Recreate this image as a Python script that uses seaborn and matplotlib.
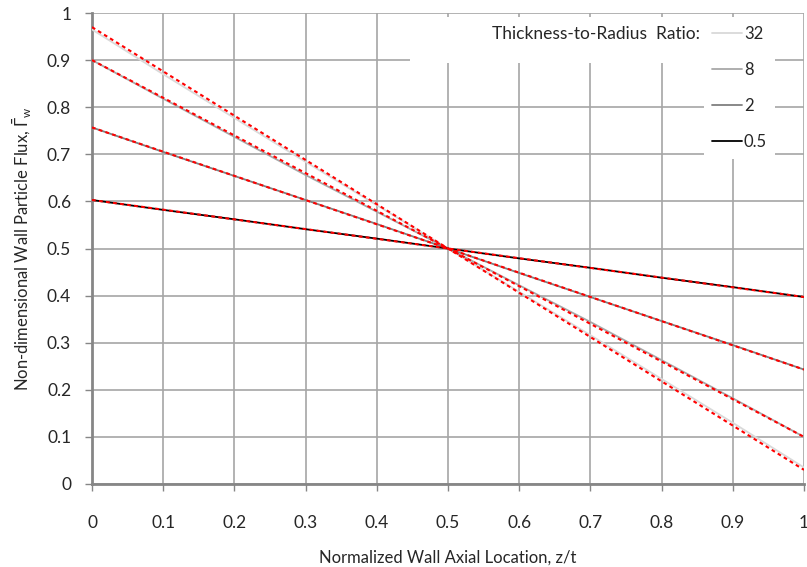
import numpy as np
import pandas as pd
import matplotlib
matplotlib.use("Agg")
import matplotlib.pyplot as plt
from matplotlib.patches import Rectangle
from matplotlib.lines import Line2D
import seaborn as sns

# ---- data ----
x_vals = [0.0, 0.1, 0.2, 0.3, 0.4, 0.5, 0.6, 0.7, 0.8, 0.9, 1.0]
ratios = ["32", "8", "2", "0.5"]
flux_32 = [0.965, 0.870, 0.777, 0.684, 0.592, 0.500, 0.408, 0.316, 0.223, 0.130, 0.035]
flux_8 = [0.900, 0.818, 0.737, 0.656, 0.578, 0.500, 0.422, 0.344, 0.263, 0.182, 0.100]
flux_2 = [0.757, 0.705, 0.654, 0.603, 0.552, 0.500, 0.448, 0.397, 0.346, 0.295, 0.243]
flux_05 = [0.603, 0.582, 0.562, 0.541, 0.521, 0.500, 0.479, 0.459, 0.438, 0.418, 0.397]
fit_x = [0.0, 1.0]
fit_32 = [0.970, 0.030]
fit_8 = [0.900, 0.100]
fit_2 = [0.757, 0.243]
fit_05 = [0.603, 0.397]

x_ticks = [0, 0.1, 0.2, 0.3, 0.4, 0.5, 0.6, 0.7, 0.8, 0.9, 1]
tick_labels = ["0", "0.1", "0.2", "0.3", "0.4", "0.5", "0.6", "0.7", "0.8", "0.9", "1"]

sns.set_style("white")
plt.rcParams["font.family"] = ["Lato", "DejaVu Sans"]
plt.rcParams["mathtext.fontset"] = "custom"
plt.rcParams["mathtext.rm"] = "Lato"
plt.rcParams["mathtext.it"] = "Lato"

solid = pd.DataFrame({
    "x": x_vals * 4,
    "y": flux_32 + flux_8 + flux_2 + flux_05,
    "ratio": sum([[r] * len(x_vals) for r in ratios], []),
})
fits = pd.DataFrame({
    "x": fit_x * 4,
    "y": fit_32 + fit_8 + fit_2 + fit_05,
    "ratio": sum([[r] * len(fit_x) for r in ratios], []),
})

colors = {"32": "#d9d9d9", "8": "#a8a8a8", "2": "#7f7f7f", "0.5": "#000000"}

fig = plt.figure(figsize=(8.07, 5.67), dpi=100)
ax = fig.add_axes([92 / 807, 1 - 484 / 567, (804 - 92) / 807, (484 - 13) / 567])

sns.lineplot(data=solid, x="x", y="y", hue="ratio", hue_order=ratios,
             palette=colors, linewidth=1.3, ax=ax, legend=False, zorder=3)
for r in ratios:
    sub = fits[fits["ratio"] == r]
    sns.lineplot(data=sub, x="x", y="y", color="red", linewidth=1.5,
                 ax=ax, legend=False, zorder=4)
for ln in ax.lines[4:]:
    ln.set_dashes([1.8, 1.6])

ax.set_xlim(0, 1)
ax.set_ylim(0, 1)
ax.set_xticks(x_ticks)
ax.set_xticklabels(tick_labels)
ax.set_yticks(x_ticks)
ax.set_yticklabels(tick_labels)
ax.grid(True, color="#a6a6a6", linewidth=1.2)
ax.set_axisbelow(True)
for s in ["top", "right"]:
    ax.spines[s].set_visible(False)
for s in ["left", "bottom"]:
    ax.spines[s].set_color("#868686")
    ax.spines[s].set_linewidth(2.0)
    ax.spines[s].set_zorder(2.5)
ax.tick_params(axis="x", direction="out", length=5, width=1, color="#868686",
               pad=17, labelsize=12.5, bottom=True)
ax.tick_params(axis="y", direction="out", length=5, width=1, color="#868686",
               pad=10, labelsize=12.5, left=True)

ax.set_xlabel("Normalized Wall Axial Location, z/t", fontsize=12, labelpad=14)
ax.set_ylabel(r"Non-dimensional Wall Particle Flux, $\bar{\Gamma}_{\mathrm{w}}$",
              fontsize=12, labelpad=10)

# legend background + title
ax.add_patch(Rectangle(((410 - 92) / 712, (484 - 63) / 471),
                       (775 - 410) / 712, (63 - 17) / 471,
                       transform=ax.transAxes, facecolor="white",
                       edgecolor="none", zorder=5))
ax.text((700 - 92) / 712, (484 - 34) / 471, "Thickness-to-Radius  Ratio:",
        transform=ax.transAxes, ha="right", va="center", fontsize=12.5, zorder=6)

handles = [Line2D([], [], color=colors[r], linewidth=1.3) for r in ratios]
leg = ax.legend(handles, ratios, loc="upper left",
                bbox_to_anchor=((704 - 92) / 712, (484 - 18) / 471),
                frameon=True, fancybox=False, framealpha=1, edgecolor="none",
                facecolor="white", fontsize=12, handlelength=1.8,
                handletextpad=0.1, labelspacing=1.2, borderpad=0.5,
                borderaxespad=0)
leg.set_zorder(7)

fig.savefig("out.png", dpi=100)
